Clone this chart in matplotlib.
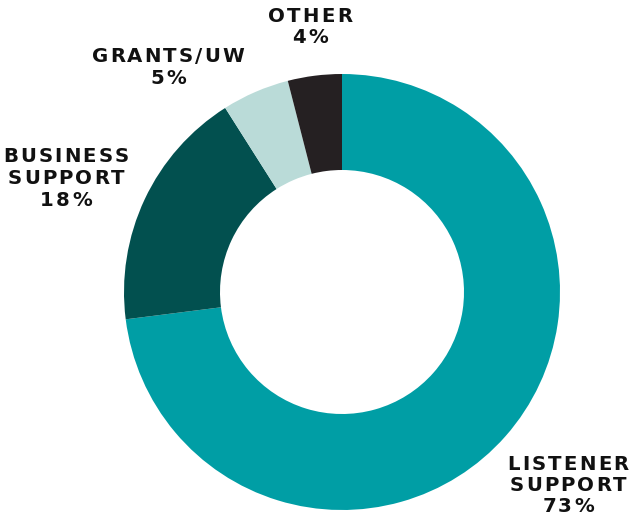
import matplotlib
matplotlib.use("Agg")
import matplotlib.pyplot as plt

# revenue share, clockwise from 12 o'clock
labels = ["LISTENER\nSUPPORT", "BUSINESS\nSUPPORT", "GRANTS/UW", "OTHER"]
shares = [73, 18, 5, 4]
colors = ["#009ea5", "#02504f", "#badbd8", "#252022"]

# label anchor points in pixel space (x, y of first line from top)
label_pos = [(568, 464), (66, 157), (168, 57), (310, 16)]

W, H = 632, 516
LINE_H = 21.5
TRACK = 2.1

fig = plt.figure(figsize=(W / 100, H / 100), dpi=100)
ax = fig.add_axes([0, 0, 1, 1])

cx, cy, r_out, r_in = 342, 292, 218, 122
ax.pie(shares, colors=colors, startangle=90, counterclock=False,
       center=(cx, H - cy), radius=r_out,
       wedgeprops=dict(width=r_out - r_in, linewidth=0), frame=True)
ax.set_xlim(0, W)
ax.set_ylim(0, H)
ax.set_aspect("equal")
ax.axis("off")

renderer = fig.canvas.get_renderer()
style = dict(fontsize=14.2, fontweight="bold", family="DejaVu Sans", color="#111111")


def spaced_line(s, xc, y):
    # matplotlib has no letter-spacing, so lay the glyphs out one by one
    widths = []
    for ch in s:
        t = ax.text(0, 0, ch, **style)
        widths.append(t.get_window_extent(renderer).width)
        t.remove()
    total = sum(widths) + TRACK * (len(s) - 1)
    x = xc - total / 2
    for ch, w in zip(s, widths):
        ax.text(x, H - y, ch, ha="left", va="center", **style)
        x += w + TRACK


for lab, val, (x, y) in zip(labels, shares, label_pos):
    lines = lab.split("\n") + [f"{val}%"]
    for i, line in enumerate(lines):
        spaced_line(line, x, y + i * LINE_H)

fig.savefig("out.png", dpi=100)
